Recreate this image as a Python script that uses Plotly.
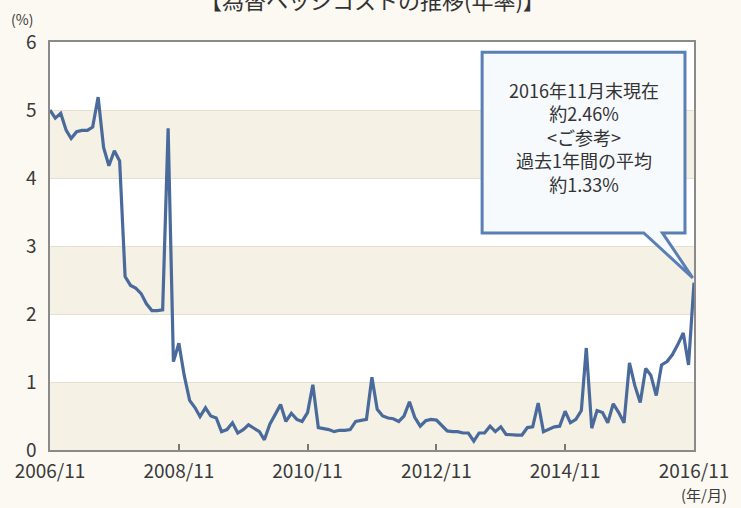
import pandas as pd
import plotly.graph_objects as go

# monthly values (%) from 2006/11 to 2016/11
values = [
    5.00, 4.88, 4.95, 4.70, 4.58, 4.68, 4.70, 4.70, 4.75, 5.19,
    4.45, 4.18, 4.40, 4.25, 2.55, 2.42, 2.38, 2.30, 2.15, 2.05,
    2.05, 2.06, 4.73, 1.30, 1.57, 1.10, 0.73, 0.62, 0.49, 0.62,
    0.50, 0.47, 0.27, 0.30, 0.40, 0.25, 0.30, 0.37, 0.32, 0.27,
    0.15, 0.38, 0.52, 0.67, 0.42, 0.54, 0.45, 0.42, 0.55, 0.96,
    0.33, 0.32, 0.30, 0.27, 0.29, 0.29, 0.30, 0.42, 0.44, 0.45,
    1.07, 0.60, 0.50, 0.47, 0.46, 0.42, 0.50, 0.71, 0.48, 0.35,
    0.43, 0.45, 0.44, 0.36, 0.28, 0.27, 0.27, 0.25, 0.25, 0.13,
    0.25, 0.25, 0.35, 0.27, 0.34, 0.23, 0.22, 0.22, 0.22, 0.33,
    0.34, 0.69, 0.27, 0.30, 0.34, 0.35, 0.57, 0.40, 0.45, 0.58,
    1.50, 0.32, 0.58, 0.55, 0.40, 0.68, 0.55, 0.40, 1.28, 0.95,
    0.70, 1.20, 1.10, 0.80, 1.25, 1.30, 1.40, 1.55, 1.72, 1.25,
    2.46,
]
months = pd.date_range("2006-11-01", periods=len(values), freq="MS")

tick_dates = ["2006-11-01", "2008-11-01", "2010-11-01", "2012-11-01", "2014-11-01", "2016-11-01"]
tick_labels = ["2006/11", "2008/11", "2010/11", "2012/11", "2014/11", "2016/11"]
y_ticks = [0, 1, 2, 3, 4, 5, 6]

title_text = "【為替ヘッジコストの推移(年率)】"
callout_lines = ["2016年11月末現在", "約2.46%", "<ご参考>", "過去1年間の平均", "約1.33%"]

FONT = "Noto Sans CJK JP"
TXT = "#3a3a3a"
LINE = "#4a6a9c"

fig = go.Figure()
fig.add_trace(go.Scatter(
    x=months, y=values, mode="lines",
    line=dict(color=LINE, width=3.2), hoverinfo="skip", showlegend=False,
))

shapes = []
# alternating beige bands
for lo in [0, 2, 4]:
    shapes.append(dict(type="rect", xref="paper", yref="y", x0=0, x1=1, y0=lo, y1=lo + 1,
                       fillcolor="#f5f1e4", line=dict(width=0), layer="below"))

# callout bubble (paper coordinates)
bx0, bx1, by0, by1 = 0.671, 0.986, 0.532, 0.975
path = (f"M {bx0},{by0} L {bx0},{by1} L {bx1},{by1} L {bx1},{by0} "
        f"L 0.951,{by0} L 0.998,0.422 L 0.922,{by0} Z")
shapes.append(dict(type="path", xref="paper", yref="paper", path=path,
                   fillcolor="#f7fafd", line=dict(color="#5a7fb5", width=3), layer="above"))

annotations = [
    dict(text=title_text, xref="paper", yref="paper", x=0.5, y=1.106, showarrow=False,
         xanchor="center", yanchor="middle", font=dict(family=FONT, size=22, color="#333")),
    dict(text="(%)", xref="paper", yref="paper", x=-0.043, y=(450 - 19) / 408, showarrow=False,
         xanchor="center", yanchor="middle", borderpad=0,
         font=dict(family=FONT, size=14, color=TXT)),
    dict(text="(年/月)", xref="paper", yref="paper", x=1.016, y=-0.108, showarrow=False,
         xanchor="center", yanchor="middle", font=dict(family=FONT, size=15, color=TXT)),
    dict(text="<br>".join(callout_lines), xref="paper", yref="paper", x=0.8287,
         y=(450 - 137) / 408, showarrow=False, xanchor="center", yanchor="middle",
         align="center", font=dict(family=FONT, size=18, color="#333")),
]

fig.update_layout(
    width=741, height=508,
    margin=dict(l=50, r=40, t=42, b=58),
    paper_bgcolor="#fbf9f2", plot_bgcolor="#ffffff",
    font=dict(family=FONT, color=TXT),
    shapes=shapes, annotations=annotations,
    xaxis=dict(
        type="date", range=["2006-11-01", "2016-11-01"],
        tickvals=tick_dates, ticktext=tick_labels,
        tickfont=dict(family=FONT, size=19, color=TXT),
        ticks="inside", ticklen=6, tickcolor="#777", tickwidth=1.5,
        ticklabelstandoff=3,
        showline=True, linecolor="#8a8a8a", linewidth=1.5, mirror=True,
        showgrid=False, zeroline=False,
    ),
    yaxis=dict(
        range=[0, 6], tickvals=y_ticks,
        tickfont=dict(family=FONT, size=19, color=TXT),
        ticks="", ticklabelstandoff=8,
        showline=True, linecolor="#8a8a8a", linewidth=1.5, mirror=True,
        showgrid=True, gridcolor="#e4dfd0", gridwidth=1, zeroline=False,
    ),
)

fig.write_html("out.html")
